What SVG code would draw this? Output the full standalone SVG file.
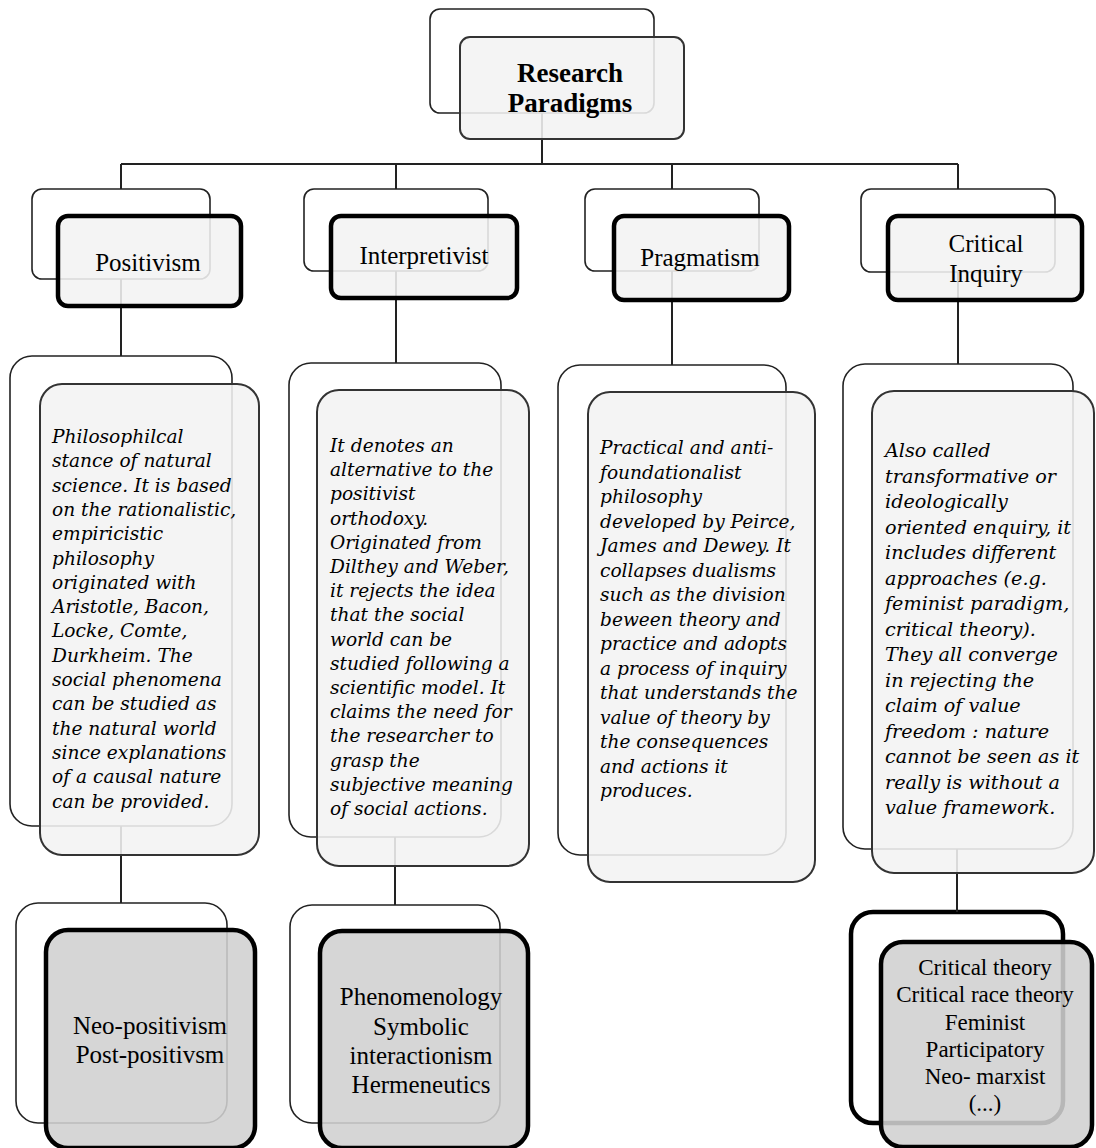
<svg xmlns="http://www.w3.org/2000/svg" width="1096" height="1148" viewBox="0 0 1096 1148">
  <style>
    .back { fill: #ffffff; stroke: #222; stroke-width: 1.6; }
    .back-heavy { fill: #ffffff; stroke: #000; stroke-width: 4.5; }
    .front-thin { fill: #f2f2f2; fill-opacity: 0.88; stroke: #333; stroke-width: 2; }
    .front-heavy { fill: #f2f2f2; fill-opacity: 0.88; stroke: #000; stroke-width: 4.5; }
    .front-grey { fill: #d0d0d0; fill-opacity: 0.88; stroke: #000; stroke-width: 4.5; }
    .wire { fill: none; stroke: #222; stroke-width: 2; }
    .title { font-family: "Liberation Serif", "Times New Roman", serif; font-size: 27px; font-weight: bold; fill: #000; text-anchor: middle; }
    .label { font-family: "Liberation Serif", "Times New Roman", serif; font-size: 25px; fill: #000; text-anchor: middle; }
    .list { font-family: "Liberation Serif", "Times New Roman", serif; font-size: 23px; fill: #000; text-anchor: middle; }
    .desc { font-family: "DejaVu Serif", "Liberation Serif", serif; font-style: italic; font-size: 18.6px; fill: #000; }
    .desc-wide { font-size: 19.2px; }
  </style>

  <!-- back (shadow) outlines -->
  <g id="outlines">
    <rect class="back" x="430" y="9" width="224" height="104" rx="10"/>
    <rect class="back" x="32" y="189" width="178" height="90" rx="10"/>
    <rect class="back" x="304" y="189" width="184" height="82" rx="10"/>
    <rect class="back" x="585" y="189" width="174" height="82" rx="10"/>
    <rect class="back" x="861" y="189" width="194" height="83" rx="10"/>
    <rect class="back" x="10" y="356" width="222" height="470" rx="22"/>
    <rect class="back" x="289" y="363" width="212" height="474" rx="22"/>
    <rect class="back" x="558" y="365" width="228" height="490" rx="22"/>
    <rect class="back" x="843" y="364" width="230" height="485" rx="22"/>
    <rect class="back" x="16" y="903" width="211" height="220" rx="22"/>
    <rect class="back" x="290" y="905" width="210" height="218" rx="22"/>
    <rect class="back-heavy" x="851" y="912" width="212" height="211" rx="22"/>
  </g>

  <!-- connectors -->
  <g id="connectors">
    <path class="wire" d="M542 113 V164 M121 164 H958 M121 164 V189 M396 164 V189 M672 164 V189 M958 164 V189"/>
    <path class="wire" d="M121 279 V356 M396 271 V363 M672 271 V365 M958 272 V364"/>
    <path class="wire" d="M121 826 V903 M395 837 V905 M957 849 V912"/>
  </g>

  <g id="research-paradigms">
    <rect class="front-thin" x="460" y="37" width="224" height="102" rx="10"/>
    <text class="title" x="570" y="82">Research</text>
    <text class="title" x="570" y="112">Paradigms</text>
  </g>

  <g id="positivism">
    <rect class="front-heavy" x="58" y="216" width="183" height="90" rx="10"/>
    <text class="label" x="148" y="271">Positivism</text>
  </g>

  <g id="interpretivist">
    <rect class="front-heavy" x="331" y="216" width="186" height="82" rx="10"/>
    <text class="label" x="424" y="264">Interpretivist</text>
  </g>

  <g id="pragmatism">
    <rect class="front-heavy" x="614" y="216" width="175" height="84" rx="10"/>
    <text class="label" x="700" y="266">Pragmatism</text>
  </g>

  <g id="critical-inquiry">
    <rect class="front-heavy" x="888" y="216" width="194" height="84" rx="10"/>
    <text class="label" x="986" y="252">Critical</text>
    <text class="label" x="986" y="282">Inquiry</text>
  </g>

  <g id="positivism-desc">
    <rect class="front-thin" x="40" y="384" width="219" height="471" rx="22"/>
    <text class="desc">
      <tspan x="52" y="443">Philosophilcal</tspan>
      <tspan x="52" y="467.3">stance of natural</tspan>
      <tspan x="52" y="491.6">science.  It is based</tspan>
      <tspan x="52" y="515.9">on the rationalistic,</tspan>
      <tspan x="52" y="540.2">empiricistic</tspan>
      <tspan x="52" y="564.5">philosophy</tspan>
      <tspan x="52" y="588.8">originated with</tspan>
      <tspan x="52" y="613.1">Aristotle, Bacon,</tspan>
      <tspan x="52" y="637.4">Locke, Comte,</tspan>
      <tspan x="52" y="661.7">Durkheim. The</tspan>
      <tspan x="52" y="686">social phenomena</tspan>
      <tspan x="52" y="710.3">can be studied as</tspan>
      <tspan x="52" y="734.6">the natural world</tspan>
      <tspan x="52" y="758.9">since explanations</tspan>
      <tspan x="52" y="783.2">of a causal nature</tspan>
      <tspan x="52" y="807.5">can be provided.</tspan>
    </text>
  </g>

  <g id="interpretivist-desc">
    <rect class="front-thin" x="317" y="390" width="212" height="476" rx="22"/>
    <text class="desc">
      <tspan x="330" y="452">It denotes an</tspan>
      <tspan x="330" y="476.2">alternative to the</tspan>
      <tspan x="330" y="500.4">positivist</tspan>
      <tspan x="330" y="524.6">orthodoxy.</tspan>
      <tspan x="330" y="548.8">Originated from</tspan>
      <tspan x="330" y="573">Dilthey and Weber,</tspan>
      <tspan x="330" y="597.2">it rejects  the idea</tspan>
      <tspan x="330" y="621.4">that the social</tspan>
      <tspan x="330" y="645.6">world can be</tspan>
      <tspan x="330" y="669.8">studied following a</tspan>
      <tspan x="330" y="694">scientific model.  It</tspan>
      <tspan x="330" y="718.2">claims the need for</tspan>
      <tspan x="330" y="742.4">the researcher to</tspan>
      <tspan x="330" y="766.6">grasp the</tspan>
      <tspan x="330" y="790.8">subjective meaning</tspan>
      <tspan x="330" y="815">of social actions.</tspan>
    </text>
  </g>

  <g id="pragmatism-desc">
    <rect class="front-thin" x="588" y="392" width="227" height="490" rx="22"/>
    <text class="desc">
      <tspan x="600" y="454">Practical and anti-</tspan>
      <tspan x="600" y="478.5">foundationalist</tspan>
      <tspan x="600" y="503">philosophy</tspan>
      <tspan x="600" y="527.5">developed by Peirce,</tspan>
      <tspan x="600" y="552">James  and Dewey.  It</tspan>
      <tspan x="600" y="576.5">collapses dualisms</tspan>
      <tspan x="600" y="601">such as the  division</tspan>
      <tspan x="600" y="625.5">beween theory and</tspan>
      <tspan x="600" y="650">practice  and adopts</tspan>
      <tspan x="600" y="674.5">a process of inquiry</tspan>
      <tspan x="600" y="699">that understands  the</tspan>
      <tspan x="600" y="723.5">value of theory by</tspan>
      <tspan x="600" y="748">the consequences</tspan>
      <tspan x="600" y="772.5">and actions it</tspan>
      <tspan x="600" y="797">produces.</tspan>
    </text>
  </g>

  <g id="critical-inquiry-desc">
    <rect class="front-thin" x="872" y="391" width="222" height="482" rx="22"/>
    <text class="desc desc-wide">
      <tspan x="885" y="457">Also called</tspan>
      <tspan x="885" y="482.5">transformative or</tspan>
      <tspan x="885" y="508">ideologically</tspan>
      <tspan x="885" y="533.5">oriented enquiry,  it</tspan>
      <tspan x="885" y="559">includes different</tspan>
      <tspan x="885" y="584.5">approaches  (e.g.</tspan>
      <tspan x="885" y="610">feminist paradigm,</tspan>
      <tspan x="885" y="635.5">critical theory).</tspan>
      <tspan x="885" y="661">They all converge</tspan>
      <tspan x="885" y="686.5">in rejecting  the</tspan>
      <tspan x="885" y="712">claim of value</tspan>
      <tspan x="885" y="737.5">freedom :  nature</tspan>
      <tspan x="885" y="763">cannot be seen  as it</tspan>
      <tspan x="885" y="788.5">really is without a</tspan>
      <tspan x="885" y="814">value framework.</tspan>
    </text>
  </g>

  <g id="positivism-variants">
    <rect class="front-grey" x="46" y="930" width="209" height="218" rx="22"/>
    <text class="label" x="150" y="1034">Neo-positivism</text>
    <text class="label" x="150" y="1063">Post-positivsm</text>
  </g>

  <g id="interpretivist-variants">
    <rect class="front-grey" x="320" y="931" width="208" height="217" rx="22"/>
    <text class="label" x="421" y="1005">Phenomenology</text>
    <text class="label" x="421" y="1035">Symbolic</text>
    <text class="label" x="421" y="1064">interactionism</text>
    <text class="label" x="421" y="1093">Hermeneutics</text>
  </g>

  <g id="critical-variants">
    <rect class="front-grey" x="881" y="942" width="211" height="205" rx="22"/>
    <text class="list" x="985" y="975">Critical  theory</text>
    <text class="list" x="985" y="1002">Critical  race theory</text>
    <text class="list" x="985" y="1030">Feminist</text>
    <text class="list" x="985" y="1057">Participatory</text>
    <text class="list" x="985" y="1084">Neo- marxist</text>
    <text class="list" x="985" y="1111">(...)</text>
  </g>
</svg>
